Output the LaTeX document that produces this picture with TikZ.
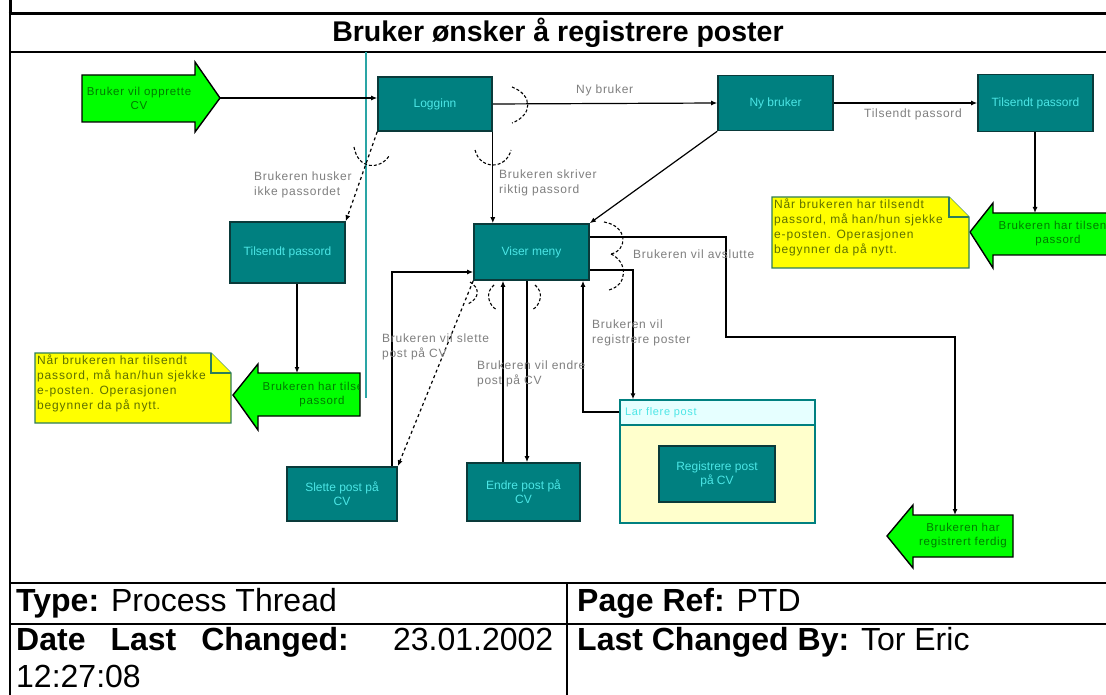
\documentclass[tikz,border=0pt]{standalone}
\usepackage{fontspec}
\setmainfont{Liberation Sans}
\newfontfamily\labelfont[LetterSpace=6]{Liberation Sans}
\newfontfamily\notefont[LetterSpace=7]{Liberation Sans}
\usetikzlibrary{arrows.meta,calc}
\definecolor{tealfill}{HTML}{008080}
\definecolor{tealline}{HTML}{0A3A3A}
\definecolor{tealtext}{HTML}{4CE6E6}
\definecolor{greenfill}{HTML}{00FF00}
\definecolor{greentext}{HTML}{007A00}
\definecolor{notefill}{HTML}{FFFF00}
\definecolor{notetext}{HTML}{5E7000}
\definecolor{noteline}{HTML}{2E7D5A}
\definecolor{labelgray}{HTML}{7F7F7F}
\definecolor{contfill}{HTML}{FFFFCC}
\definecolor{headfill}{HTML}{E6FFFF}
\definecolor{laneline}{HTML}{2AA5A5}
\tikzset{
  tbox/.style={draw=tealline, line width=1.6pt, fill=tealfill, text=tealtext,
    font=\fontsize{12}{14}\selectfont, align=center, inner sep=2pt},
  conn/.style={draw=black, line width=1.2pt, -{Latex[length=6pt,width=5pt]}},
  lbl/.style={text=labelgray, font=\labelfont\fontsize{12}{15}\selectfont, align=left, anchor=west, inner sep=0pt},
  garrow/.style={draw=black, line width=1.4pt, fill=greenfill},
  gtext/.style={text=greentext, font=\labelfont\fontsize{11.5}{14}\selectfont, align=center, inner sep=0pt},
  note/.style={draw=noteline, line width=1.2pt, fill=notefill},
  ntext/.style={text=notetext, font=\notefont\fontsize{12}{15}\selectfont, align=left, anchor=north west, inner sep=0pt},
  jump/.style={draw=black, line width=1.1pt, dash pattern=on 3pt off 2pt},
  foot/.style={font=\fontsize{32}{36}\selectfont, inner sep=0pt, anchor=west},
}
\begin{document}
\begin{tikzpicture}[x=1pt,y=-1pt]
\clip (0,0) rectangle (1106,695);
\fill[white] (0,0) rectangle (1106,695);

% ---- frame, title row and footer table ----
\draw[line width=3pt] (10,0) -- (10,14);
\draw[line width=3pt] (8.5,14) -- (1106,14);
\draw[line width=1.5pt] (10,14) -- (10,695);
\draw[line width=2pt] (10,52) -- (1106,52);
\draw[line width=2pt] (10,583) -- (1106,583);
\draw[line width=2pt] (10,624) -- (1106,624);
\draw[line width=1.5pt] (567,583) -- (567,695);
\node[font=\fontsize{28.5}{32}\selectfont\bfseries, inner sep=0pt] (title) at (558,33)
  {Bruker ønsker å registrere poster};

\node[foot] (type) at (16,603) {\textbf{Type:} Process Thread};
\node[foot] (pref) at (577,603) {\textbf{Page Ref:} PTD};
\node[foot] (date) at (16,642) {\makebox[537pt][s]{\textbf{Date} \textbf{Last} \textbf{Changed:} 23.01.2002}};
\node[foot] (time) at (16,676) {12:27:08};
\node[foot] (lcb) at (577,642) {\textbf{Last Changed By:} Tor Eric};

% ---- lane line ----
\draw[laneline, line width=1.3pt] (366,52) -- (366,398);

% ---- process boxes ----
\node[tbox, minimum width=114, minimum height=54] (login) at (435,104) {Logginn};
\node[tbox, minimum width=115, minimum height=55] (nybruker) at (775.5,103) {Ny bruker};
\node[tbox, minimum width=115, minimum height=57] (tilsR) at (1035.5,103) {Tilsendt passord};
\node[tbox, minimum width=115, minimum height=61] (tilsL) at (287.5,252.5) {Tilsendt passord};
\node[tbox, minimum width=115, minimum height=56] (meny) at (531.5,252) {Viser meny};
\node[tbox, minimum width=110, minimum height=54] (slette) at (342,494) {Slette post på\\CV};
\node[tbox, minimum width=113, minimum height=58] (endre) at (523.5,492) {Endre post på\\CV};

% container with header strip and inner step
\node[draw=tealfill, line width=1.4pt, fill=contfill, minimum width=195, minimum height=123, inner sep=0pt] (cont) at (717.5,461.5) {};
\fill[headfill] (621,401) rectangle (814,425);
\draw[tealfill, line width=1.2pt] (620,425) -- (815,425);
\node[text=tealtext, font=\labelfont\fontsize{11}{13}\selectfont, anchor=west, inner sep=0pt] (conthead) at (625,413) {Lar flere post};
\node[tbox, minimum width=116, minimum height=56] (reg) at (717,474) {Registrere post\\på CV};

% ---- green start / end arrows ----
\draw[garrow] (82,75) -- (195,75) -- (195,62) -- (220,98) -- (195,132) -- (195,122) -- (82,122) -- cycle;
\coordinate (starttip) at (220,98);
\node[gtext] (start) at (139,98) {Bruker vil opprette\\CV};

\draw[garrow] (1110,213) -- (993,213) -- (993,203) -- (970,232) -- (993,268) -- (993,255) -- (1110,255) -- cycle;
\coordinate (tilsRarrow) at (1035,213);
\begin{scope}
  \clip (994,214) rectangle (1106,254);
  \node[gtext] (doneR) at (1058,234) {Brukeren har tilsendt\\passord};
\end{scope}

\draw[garrow] (360,373) -- (258,373) -- (258,364) -- (233,395) -- (258,430) -- (258,416) -- (360,416) -- cycle;
\coordinate (tilsLarrow) at (297,373);
\begin{scope}
  \clip (259,374) rectangle (359,415);
  \node[gtext] (doneL) at (322,395) {Brukeren har tilsendt\\passord};
\end{scope}

\draw[garrow] (1013,515) -- (913,515) -- (913,505) -- (887,536) -- (913,568) -- (913,557) -- (1013,557) -- cycle;
\coordinate (ferdigtop) at (955,515);
\node[gtext] (ferdig) at (963,536) {Brukeren har\\registrert ferdig};

% ---- notes with folded corner ----
\draw[note] (772,197) -- (949,197) -- (969,217) -- (969,268) -- (772,268) -- cycle;
\draw[note] (949,197) -- (949,217) -- (969,217);
\node[ntext] (noteR) at (774,199) {Når brukeren har tilsendt\\passord, må han/hun sjekke\\e-posten. Operasjonen\\begynner da på nytt.};

\draw[note] (35,353) -- (211,353) -- (231,373) -- (231,423) -- (35,423) -- cycle;
\draw[note] (211,353) -- (211,373) -- (231,373);
\node[ntext] (noteL) at (37,355) {Når brukeren har tilsendt\\passord, må han/hun sjekke\\e-posten. Operasjonen\\begynner da på nytt.};

% ---- connectors ----
\draw[conn] (starttip) -- (login.west |- starttip);
\draw[conn] (login.east) -- (nybruker.west);
\draw[conn] (nybruker.east) -- (tilsR.west);
\draw[conn] (tilsR.south -| tilsRarrow) -- (tilsRarrow);
\draw[conn, dashed] (login.south west) -- (tilsL.north east);
\draw[conn] (tilsL.south -| tilsLarrow) -- (tilsLarrow);
\draw[conn] (login.south east) -- (login.south east |- meny.north);
\draw[conn] (nybruker.south west) -- (meny.north east);
\draw[conn] (meny.east |- 0,237) -| (726,337) -| (ferdigtop);
\draw[conn] (meny.east |- 0,270) -| (cont.north -| 633,0);
\draw[conn] (cont.west |- 0,412) -| (meny.south -| 583,0);
\draw[conn] (meny.south -| 527,0) -- (endre.north -| 527,0);
\draw[conn] (endre.north -| 503,0) -- (meny.south -| 503,0);
\draw[conn] (slette.north -| 392,0) |- (meny.west |- 0,272);
\draw[conn, dashed] (meny.south west) -- (slette.north east);

% ---- connector labels ----
\node[lbl] (lnyb) at (576,90) {Ny bruker};
\node[lbl] (ltils) at (864,114) {Tilsendt passord};
\node[lbl] (lhusk) at (254,185) {Brukeren husker\\ikke passordet};
\node[lbl] (lskriv) at (499,183) {Brukeren skriver\\riktig passord};
\node[lbl] (lavsl) at (633,254) {Brukeren vil avslutte};
\node[lbl] (lreg) at (592,333) {Brukeren vil\\registrere poster};
\node[lbl] (lslett) at (382,347) {Brukeren vil slette\\post på CV};
\node[lbl] (lendre) at (477,374) {Brukeren vil endre\\post på CV};

% ---- condition jump marks ----
\draw[jump] (512,87) .. controls (533,95) and (533,115) .. (512,123);
\draw[jump] (475,150) .. controls (480,170) and (506,170) .. (511,150);
\draw[jump] (354,147) .. controls (358,170) and (380,170) .. (389,156);
\draw[jump] (604,222) .. controls (628,226) and (628,250) .. (611,254);
\draw[jump] (611,254) .. controls (628,262) and (628,285) .. (609,290);
\draw[jump] (494,285) .. controls (485,292) and (488,305) .. (497,310);
\draw[jump] (535,285) .. controls (544,292) and (541,305) .. (532,310);
\draw[jump] (470,282) .. controls (480,288) and (480,298) .. (468,304);
\end{tikzpicture}
\end{document}
